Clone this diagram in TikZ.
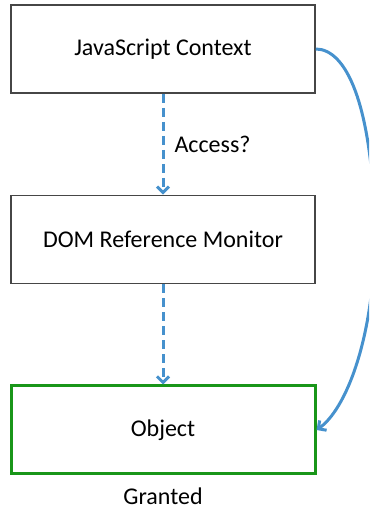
\documentclass[tikz,border=0pt]{standalone}
\usepackage{fontspec}
\setmainfont{Carlito}
\usetikzlibrary{arrows.meta,positioning}

\definecolor{linkblue}{RGB}{70,145,205}
\definecolor{okgreen}{RGB}{25,150,25}
\definecolor{boxgray}{RGB}{70,70,70}

\begin{document}
\begin{tikzpicture}[x=1pt,y=1pt,>={Straight Barb[length=6pt,width=12pt]},font=\fontsize{24}{28}\selectfont]
\tikzstyle{every node}=[inner sep=0pt]
\tikzstyle{box}=[draw=boxgray,line width=1.6pt,fill=white,minimum width=304pt,minimum height=88pt]
\tikzstyle{check}=[->,draw=linkblue,line width=3pt,dash pattern=on 9pt off 5pt]

\useasboundingbox (0,0) rectangle (369,510);
\clip (0,0) rectangle (369,510);

\node[box]          (ctx) at (163,461)                             {JavaScript Context};
\node[box]          (mon) [below of=ctx,node distance=190.5pt]     {DOM Reference Monitor};
\node[box]          (obj) [below of=mon,node distance=190.5pt,draw=okgreen,line width=3pt] {Object};
\node               (res) [below of=obj,node distance=66pt]        {Granted};
\coordinate         (bend) at (375,280);

\path
(ctx) edge[check] node[auto,inner sep=10pt] {Access?} (mon)
(mon) edge[check] (obj)
;
\draw[->,linkblue,line width=3pt] (ctx.east) .. controls (345,461) and (372,410) .. (bend)
      .. controls (375,170) and (345,100) .. (obj.east);
\end{tikzpicture}
\end{document}
